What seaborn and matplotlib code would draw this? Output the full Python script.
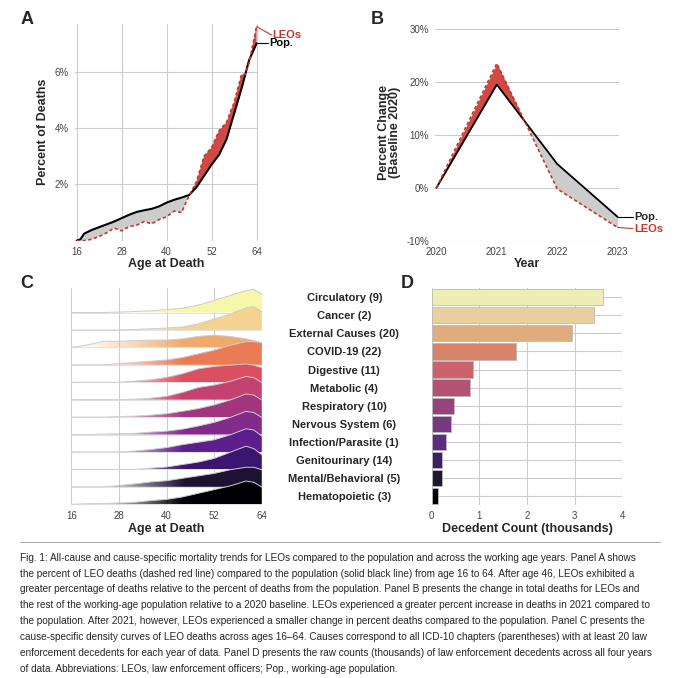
import numpy as np
import pandas as pd
import seaborn as sns
import matplotlib.pyplot as plt
from matplotlib.colors import to_rgb

sns.set_style("whitegrid")
plt.rcParams["font.family"] = ["Liberation Sans", "DejaVu Sans"]

# Panel A: percent of deaths by age
ages = [16, 17, 18, 20, 22, 24, 26, 28, 30, 32, 34, 36, 38, 40, 42, 44, 46, 48, 50, 52, 54, 56, 58, 60, 61, 62, 64]
pop_pct = [0.0, 0.05, 0.25, 0.38, 0.48, 0.58, 0.68, 0.8, 0.92, 1.02, 1.08, 1.13, 1.22, 1.35, 1.45, 1.53, 1.62, 1.9, 2.3, 2.7, 3.05, 3.6, 4.5, 5.4, 5.9, 6.4, 7.0]
leo_pct = [0.0, 0.0, 0.0, 0.05, 0.15, 0.28, 0.45, 0.35, 0.5, 0.55, 0.68, 0.6, 0.75, 0.85, 1.05, 1.0, 1.6, 2.1, 3.0, 3.3, 3.9, 4.2, 4.9, 5.9, 5.9, 6.3, 7.6]

# Panel B: percent change vs 2020
years = [2020, 2021, 2022, 2023]
pop_change = [0.0, 19.5, 4.5, -5.5]
leo_change = [0.0, 23.5, -0.2, -7.5]

# Panels C/D: causes of death
causes = ["Circulatory (9)", "Cancer (2)", "External Causes (20)", "COVID-19 (22)", "Digestive (11)",
          "Metabolic (4)", "Respiratory (10)", "Nervous System (6)", "Infection/Parasite (1)",
          "Genitourinary (14)", "Mental/Behavioral (5)", "Hematopoietic (3)"]
counts = [3.6, 3.4, 2.95, 1.77, 0.87, 0.8, 0.47, 0.41, 0.29, 0.22, 0.21, 0.12]
cause_colors = ["#f6f7ab", "#f5d390", "#f1aa6c", "#ea7b55", "#db5060", "#c4426f", "#a3357f",
                "#822b8c", "#5d1f8c", "#3b1670", "#1e1233", "#000004"]
ridge_ages = [16, 20, 24, 28, 32, 36, 40, 44, 48, 52, 56, 60, 62, 64]
ridges = [
    [0, 0, 0, 0.02, 0.04, 0.07, 0.12, 0.18, 0.3, 0.5, 0.7, 0.9, 0.95, 0.75],
    [0, 0, 0, 0, 0.02, 0.05, 0.08, 0.12, 0.25, 0.45, 0.65, 0.9, 0.95, 0.75],
    [0, 0.1, 0.25, 0.25, 0.28, 0.3, 0.3, 0.35, 0.45, 0.5, 0.45, 0.35, 0.28, 0.2],
    [0, 0, 0, 0.05, 0.1, 0.15, 0.2, 0.3, 0.45, 0.6, 0.8, 0.95, 0.95, 0.9],
    [0, 0, 0, 0, 0.05, 0.1, 0.2, 0.35, 0.55, 0.65, 0.7, 0.75, 0.7, 0.6],
    [0, 0, 0, 0, 0.02, 0.06, 0.14, 0.3, 0.5, 0.6, 0.75, 0.95, 0.9, 0.7],
    [0, 0, 0, 0.02, 0.04, 0.08, 0.14, 0.24, 0.35, 0.5, 0.7, 0.95, 0.9, 0.7],
    [0, 0, 0.02, 0.03, 0.05, 0.1, 0.14, 0.22, 0.35, 0.5, 0.7, 0.95, 0.9, 0.7],
    [0, 0, 0, 0, 0.04, 0.1, 0.18, 0.3, 0.4, 0.5, 0.7, 0.95, 0.9, 0.65],
    [0, 0, 0, 0, 0, 0.05, 0.1, 0.2, 0.3, 0.45, 0.7, 0.95, 0.85, 0.6],
    [0, 0, 0, 0.05, 0.12, 0.2, 0.25, 0.35, 0.45, 0.55, 0.7, 0.8, 0.8, 0.7],
    [0, 0.02, 0.03, 0.05, 0.08, 0.15, 0.2, 0.3, 0.45, 0.6, 0.75, 0.95, 0.9, 0.7],
]

caption = [
    "Fig. 1: All-cause and cause-specific mortality trends for LEOs compared to the population and across the working age years. Panel A shows",
    "the percent of LEO deaths (dashed red line) compared to the population (solid black line) from age 16 to 64. After age 46, LEOs exhibited a",
    "greater percentage of deaths relative to the percent of deaths from the population. Panel B presents the change in total deaths for LEOs and",
    "the rest of the working-age population relative to a 2020 baseline. LEOs experienced a greater percent increase in deaths in 2021 compared to",
    "the population. After 2021, however, LEOs experienced a smaller change in percent deaths compared to the population. Panel C presents the",
    "cause-specific density curves of LEO deaths across ages 16\u201364. Causes correspond to all ICD-10 chapters (parentheses) with at least 20 law",
    "enforcement decedents for each year of data. Panel D presents the raw counts (thousands) of law enforcement decedents across all four years",
    "of data. Abbreviations: LEOs, law enforcement officers; Pop., working-age population.",
]

red = "#c8352b"
fig = plt.figure(figsize=(6.8, 6.78), dpi=100)

#%% Panel A
ax_a = fig.add_axes([0.11, 0.645, 0.27, 0.32])
df_a = pd.DataFrame({"age": ages, "pop": pop_pct, "leo": leo_pct})
a_pop, a_leo = np.array(pop_pct), np.array(leo_pct)
ax_a.fill_between(ages, a_pop, a_leo, where=a_leo >= a_pop, interpolate=True, color="#cf4a44", lw=0)
ax_a.fill_between(ages, a_pop, a_leo, where=a_leo < a_pop, interpolate=True, color="#cccccc", lw=0)
sns.lineplot(data=df_a, x="age", y="pop", color="black", lw=1.5, ax=ax_a)
sns.lineplot(data=df_a, x="age", y="leo", color=red, lw=1.2, ls=(0, (2, 1.5)), ax=ax_a)
ax_a.set_xlim(15.5, 64.5)
ax_a.set_ylim(0, 7.7)
ax_a.set_xticks([16, 28, 40, 52, 64])
ax_a.set_yticks([2, 4, 6])
ax_a.set_yticklabels(["2%", "4%", "6%"])
ax_a.grid(axis="x", visible=True)
ax_a.set_xlabel("Age at Death", fontweight="bold", fontsize=9, labelpad=1)
ax_a.set_ylabel("Percent of Deaths", fontweight="bold", fontsize=9)
ax_a.tick_params(labelsize=7, pad=1, colors="#444444")
ax_a.plot([64, 68], [7.6, 7.3], color=red, lw=0.8, clip_on=False)
ax_a.plot([64, 67], [7.0, 7.0], color="black", lw=0.8, clip_on=False)
ax_a.text(68.3, 7.3, "LEOs", color=red, fontweight="bold", fontsize=8, va="center")
ax_a.text(67.3, 7.0, "Pop.", color="black", fontweight="bold", fontsize=8, va="center")
for s in ax_a.spines.values():
    s.set_visible(False)
fig.text(0.03, 0.965, "A", fontsize=13, fontweight="bold")

#%% Panel B
ax_b = fig.add_axes([0.64, 0.645, 0.27, 0.32])
df_b = pd.DataFrame({"year": years, "pop": pop_change, "leo": leo_change})
b_pop, b_leo = np.array(pop_change), np.array(leo_change)
ax_b.fill_between(years, b_pop, b_leo, where=b_leo >= b_pop, interpolate=True, color="#cf4a44", lw=0)
ax_b.fill_between(years, b_pop, b_leo, where=b_leo < b_pop, interpolate=True, color="#cccccc", lw=0)
sns.lineplot(data=df_b, x="year", y="pop", color="black", lw=1.3, ax=ax_b)
sns.lineplot(data=df_b, x="year", y="leo", color=red, lw=1.2, ls=(0, (2, 1.5)), ax=ax_b)
ax_b.set_xlim(2019.98, 2023.02)
ax_b.set_ylim(-10, 31)
ax_b.set_xticks(years)
ax_b.set_yticks([-10, 0, 10, 20, 30])
ax_b.set_yticklabels(["-10%", "0%", "10%", "20%", "30%"])
ax_b.grid(axis="x", visible=False)
ax_b.set_xlabel("Year", fontweight="bold", fontsize=9, labelpad=1)
ax_b.set_ylabel("Percent Change\n(Baseline 2020)", fontweight="bold", fontsize=9, linespacing=0.9)
ax_b.tick_params(labelsize=7, pad=1, colors="#444444")
ax_b.plot([2023, 2023.25], [-5.5, -5.5], color="black", lw=0.8, clip_on=False)
ax_b.plot([2023, 2023.25], [-7.5, -7.7], color=red, lw=0.8, clip_on=False)
ax_b.text(2023.27, -5.5, "Pop.", fontweight="bold", fontsize=8, va="center")
ax_b.text(2023.27, -7.8, "LEOs", color=red, fontweight="bold", fontsize=8, va="center")
for s in ax_b.spines.values():
    s.set_visible(False)
fig.text(0.545, 0.965, "B", fontsize=13, fontweight="bold")

#%% Panel C: ridgelines
ax_c = fig.add_axes([0.105, 0.255, 0.28, 0.32])
n = len(causes)
for i, (vals, col) in enumerate(zip(ridges, cause_colors)):
    base = n - 1 - i
    top = base + np.array(vals) * 1.4
    ax_c.axhline(base, color="#dddddd", lw=0.6, zorder=i * 3)
    poly = ax_c.fill_between(ridge_ages, base, top, facecolor="none", lw=0, zorder=i * 3 + 1)
    grad = np.ones((2, 256, 4))
    grad[:, :, :3] = to_rgb(col)
    grad[:, :, 3] = np.clip(np.linspace(0, 1.7, 256), 0, 1) ** 1.3
    im = ax_c.imshow(grad, extent=[16, 64, base, base + 1.45], aspect="auto", origin="lower",
                     zorder=i * 3 + 1)
    im.set_clip_path(poly.get_paths()[0], transform=ax_c.transData)
    ax_c.plot(ridge_ages, top, color="#cccccc", lw=0.7, zorder=i * 3 + 2)
ax_c.set_xlim(16, 64)
ax_c.set_ylim(-0.05, n + 0.4)
ax_c.set_xticks([16, 28, 40, 52, 64])
ax_c.set_yticks([])
ax_c.grid(axis="y", visible=False)
ax_c.set_xlabel("Age at Death", fontweight="bold", fontsize=9, labelpad=1)
ax_c.tick_params(labelsize=7, pad=1, colors="#444444")
for s in ax_c.spines.values():
    s.set_visible(False)
fig.text(0.03, 0.575, "C", fontsize=13, fontweight="bold")

#%% Panel D: counts
ax_d = fig.add_axes([0.635, 0.255, 0.28, 0.32])
df_d = pd.DataFrame({"cause": causes, "count": counts})
sns.barplot(data=df_d, y="cause", x="count", hue="cause", hue_order=causes, palette=cause_colors,
            legend=False, edgecolor="#bbbbbb", linewidth=0.6, width=0.9, ax=ax_d)
ax_d.set_xlim(0, 4)
ax_d.set_xticks([0, 1, 2, 3, 4])
ax_d.set_ylabel("")
ax_d.set_yticks(range(n))
ax_d.set_yticklabels(causes, fontweight="bold", fontsize=8, ha="center")
ax_d.tick_params(axis="y", pad=63, length=0)
ax_d.tick_params(axis="x", labelsize=7, pad=1, colors="#444444")
ax_d.set_xlabel("Decedent Count (thousands)", fontweight="bold", fontsize=9, labelpad=1)
ax_d.grid(axis="y", visible=True)
for s in ax_d.spines.values():
    s.set_visible(False)
fig.text(0.59, 0.575, "D", fontsize=13, fontweight="bold")

#%% caption
fig.add_artist(plt.Line2D([0.03, 0.97], [0.2, 0.2], color="#999999", lw=0.6))
for k, line in enumerate(caption):
    fig.text(0.03, 0.185 - k * 0.0235, line, fontsize=7.2, va="top")

fig.savefig("out.png", dpi=100)
